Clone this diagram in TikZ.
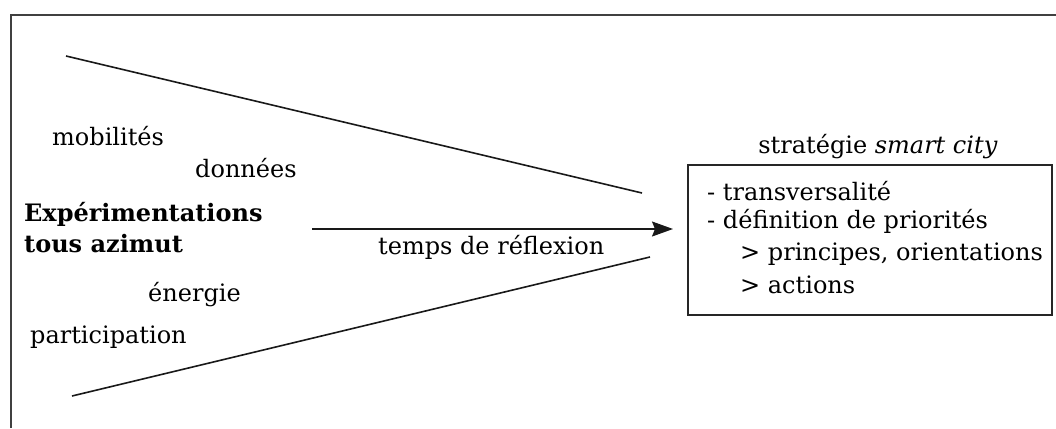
\documentclass[tikz,border=0pt]{standalone}
\usepackage{fontspec}
\setmainfont{DejaVu Serif}
\usetikzlibrary{arrows.meta}
\begin{document}
\begin{tikzpicture}[x=1pt,y=-1pt,
  lbl/.style={inner sep=0pt,font=\fontsize{24}{28}\selectfont,anchor=west},
  blbl/.style={lbl,font=\fontsize{24}{28}\selectfont\bfseries},
  ln/.style={line width=1.6pt,draw=black!90},
  frame/.style={line width=1.4pt,draw=black!75}]
\useasboundingbox (0,0) rectangle (1056,428);
\coordinate (ftl) at (11,15);
\coordinate (ftr) at (1056,15);
\coordinate (fbl) at (11,428);
\draw[frame] (fbl) -- (ftl) -- (ftr);
% labels left
\node[lbl] (mob) at (52,136) {mobilités};
\node[lbl] (don) at (195,168) {données};
\node[blbl] (exp1) at (24,214) {Expérimentations};
\node[blbl] (exp2) at (24,244) {tous azimut};
\node[lbl] (ene) at (148,295) {énergie};
\node[lbl] (par) at (30,337) {participation};
\node[lbl] (tmp) at (378,247) {temps de réflexion};
% box
\node[draw=black!85,line width=1.6pt,minimum width=364pt,minimum height=150pt,inner sep=0pt] (box) at (870,240) {};
\node[lbl,anchor=base] (title) at (878,153) {stratégie \textit{smart city}};
\node[lbl] (b1) at (707,191) {- transversalité};
\node[lbl] (b2) at (707,221) {- définition de priorités};
\node[lbl] (b3) at (740,254) {> principes, orientations};
\node[lbl] (b4) at (740,285) {> actions};
% funnel lines
\coordinate (t1) at (66,56);
\coordinate (t2) at (642,193);
\coordinate (u1) at (72,396);
\coordinate (u2) at (650,257);
\coordinate (a1) at (312,229);
\coordinate (a2) at (673,229);
\draw[ln] (t1) -- (t2);
\draw[ln] (u1) -- (u2);
\draw[ln,-{Stealth[length=21pt,width=15pt,inset=3pt]}] (a1) -- (a2);
\end{tikzpicture}
\end{document}
